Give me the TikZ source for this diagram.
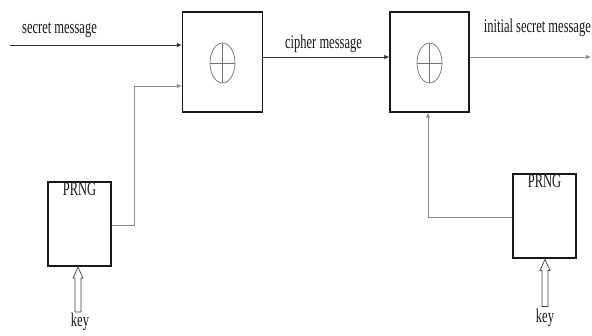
\documentclass[tikz,border=0pt]{standalone}
\usepackage{graphicx}
\usepackage{fontspec}
\setmainfont{Liberation Serif}
\usetikzlibrary{arrows.meta}
\newcommand\sy[1]{\scalebox{1}[1.55]{#1}}
\begin{document}
\begin{tikzpicture}[x=1pt,y=-1pt,
  xorbox/.style={draw=black!90, line width=1.4pt, minimum width=80pt, minimum height=100pt, inner sep=0pt},
  prngbox/.style={draw=black!90, line width=1.3pt, minimum width=63pt, minimum height=84pt, inner sep=0pt},
  lbl/.style={font=\fontsize{12.5}{14}\selectfont, inner sep=0pt, text=black!90},
  arr/.style={draw=black!80, line width=0.8pt, -{Latex[length=5pt,width=4.5pt]}},
  garr/.style={draw=black!45, line width=0.8pt, -{Latex[length=5pt,width=4.5pt]}},
  xorsym/.style={draw=black!55, line width=0.7pt},
  keyarrow/.style={draw=black!75, line width=0.7pt, fill=white}]
\useasboundingbox (0,0) rectangle (592,335);
\fill[white] (0,0) rectangle (592,335);

% boxes
\node[xorbox] (xor1) at (222.5,62) {};
\node[xorbox, minimum width=79pt] (xor2) at (429.5,62) {};
\node[prngbox] (prng1) at (79.5,224) {};
\node[prngbox] (prng2) at (544.5,216) {};

% xor symbols
\foreach \b in {xor1,xor2}{
  \draw[xorsym] ([yshift=-1pt]\b.center) ellipse [x radius=12.5, y radius=20];
  \draw[xorsym] ([yshift=-1pt,xshift=-12.5pt]\b.center) -- ([yshift=-1pt,xshift=12.5pt]\b.center);
  \draw[xorsym] ([yshift=19pt]\b.center) -- ([yshift=-21pt]\b.center);
}

% labels
\node[lbl, anchor=base] (lsm) at (59.5,33) {\sy{secret message}};
\node[lbl, anchor=base] (lcm) at (323.5,48) {\sy{cipher message}};
\node[lbl, anchor=base east] (lism) at (591,32) {\sy{initial secret message}};
\node[lbl, anchor=base] (pt1) at ([yshift=-14pt]prng1.north) {\sy{PRNG}};
\node[lbl, anchor=base] (pt2) at ([yshift=-14pt]prng2.north) {\sy{PRNG}};
\node[lbl, anchor=base] (key1) at (80,326) {\sy{key}};
\node[lbl, anchor=base] (key2) at (545,322) {\sy{key}};

% connectors
\coordinate (in1) at (10,45);
\draw[arr] (in1) -- (in1 -| xor1.west);
\coordinate (c1) at (134,225);
\coordinate (c2) at (134,86);
\draw[garr] (c1 -| prng1.east) -- (c1) -- (c2) -- (c2 -| xor1.west);
\coordinate (cm) at (300,57);
\draw[arr] (cm -| xor1.east) -- (cm -| xor2.west);
\coordinate (out) at (591,57);
\draw[garr] (out -| xor2.east) -- (out);
\coordinate (f1) at (428,217);
\draw[garr] (f1 -| prng2.west) -- (f1) -- (f1 |- xor2.south);

% key arrows
\coordinate (k1) at (78,267);
\draw[keyarrow] (k1) -- ++(-5,11) -- ++(2,0) -- ++(0,34) -- ++(6,0) -- ++(0,-34) -- ++(2,0) -- cycle;
\coordinate (k2) at (545,259.5);
\draw[keyarrow] (k2) -- ++(-5,11) -- ++(2,0) -- ++(0,36) -- ++(6,0) -- ++(0,-36) -- ++(2,0) -- cycle;
\end{tikzpicture}
\end{document}
